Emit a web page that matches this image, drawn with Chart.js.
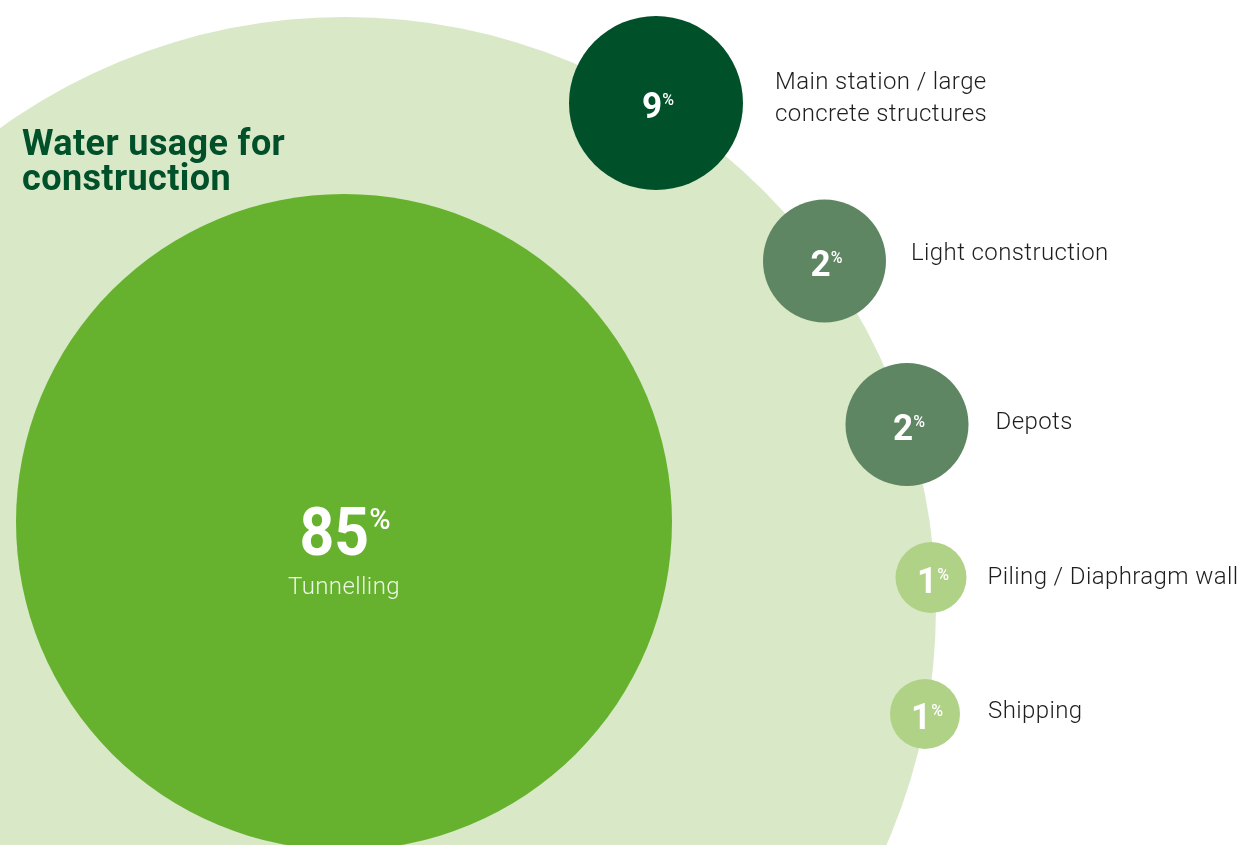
<!DOCTYPE html>
<html>
<head>
<meta charset="utf-8">
<script src="https://cdn.jsdelivr.net/npm/chart.js@4.4.1/dist/chart.umd.min.js"></script>
<style>
  html, body { margin: 0; padding: 0; background: #ffffff; }
  #wrap { width: 1242px; height: 845px; position: relative; }
</style>
</head>
<body>
<div id="wrap"><canvas id="c" width="1242" height="845"></canvas></div>
<script>
// ---- Data ----
const title = ["Water usage for", "construction"];
const categories = ["Tunnelling", "Main station / large\nconcrete structures", "Light construction", "Depots", "Piling / Diaphragm wall", "Shipping"];
const shares = [85, 9, 2, 2, 1, 1];          // percent of construction water usage
const totalShare = 100;                       // background circle = all construction

// ---- Layout (positions in scale units, radii in px) ----
const posX = [344, 656, 824.5, 907, 931, 925];
const posY = [522, 103, 261, 424.5, 577.5, 714];
const radii = [328, 87, 61.5, 61.5, 35.5, 35];
const labelGap = [0, 32, 25, 27, 21, 28];
const labelDy = [72, -14, -1, 4.5, 6.5, 4];   // baseline offset from bubble centre
const totalPos = { x: 345, y: 608, r: 591 };

// ---- Styles ----
const colors = ["#66b22f", "#00502a", "#5f8663", "#5f8663", "#b0d287", "#b0d287"];
const bgColor = "#d9e8c7";
const titleColor = "#00502a";
const FONT = "Roboto, 'Open Sans', 'DejaVu Sans', sans-serif";

const bubbleData = shares.map((v, i) => ({ x: posX[i], y: posY[i], r: radii[i], v: v }));

function setSpacing(ctx, v) { try { ctx.letterSpacing = v; } catch (e) {} }

const labelPlugin = {
  id: 'labels',
  afterDatasetsDraw(chart) {
    const ctx = chart.ctx;
    ctx.save();
    ctx.fillStyle = titleColor;
    ctx.font = "bold 36px " + FONT;
    setSpacing(ctx, "0.4px");
    ctx.textBaseline = "alphabetic";
    ctx.textAlign = "left";
    ctx.fillText(title[0], 22, 155);
    ctx.fillText(title[1], 22, 190);

    const meta = chart.getDatasetMeta(0);
    meta.data.forEach((el, i) => {
      const cx = el.x, cy = el.y;
      const r = radii[i];
      const big = i === 0;
      setSpacing(ctx, "0px");
      const numFont = big ? "bold 66px " + FONT : "bold 37px " + FONT;
      const pctFont = big ? "500 29px " + FONT : "500 16px " + FONT;
      const sx = big ? 0.92 : 0.95;
      const numStr = String(shares[i]);
      ctx.font = numFont;
      const w1 = ctx.measureText(numStr).width * sx;
      ctx.font = pctFont;
      const w2 = ctx.measureText("%").width;
      const gap = big ? 0 : 0;
      const total = w1 + gap + w2;
      const x0 = cx - total / 2 + (big ? 1 : 2);
      const numBase = big ? cy + 33 : cy + 15;
      const pctBase = big ? cy + 7 : cy + 2;
      ctx.fillStyle = "#ffffff";
      ctx.textBaseline = "alphabetic";
      ctx.textAlign = "left";
      ctx.font = numFont;
      ctx.save();
      ctx.translate(x0, numBase);
      ctx.scale(sx, 1);
      ctx.fillText(numStr, 0, 0);
      ctx.restore();
      ctx.font = pctFont;
      ctx.fillText("%", x0 + w1 + gap, pctBase);

      ctx.font = "300 24px " + FONT;
      setSpacing(ctx, "0.4px");
      if (big) {
        ctx.textAlign = "center";
        ctx.fillStyle = "#eef6e7";
        ctx.fillText(categories[i], cx, cy + labelDy[i]);
      } else {
        ctx.fillStyle = "#1e1e1e";
        ctx.textAlign = "left";
        const lines = categories[i].split("\n");
        const lh = 32;
        lines.forEach((ln, k) => ctx.fillText(ln, cx + r + labelGap[i], cy + labelDy[i] + k * lh));
      }
    });
    ctx.restore();
  }
};

const chart = new Chart(document.getElementById('c'), {
  type: 'bubble',
  data: {
    datasets: [
      {
        label: 'Water usage',
        data: bubbleData,
        backgroundColor: colors,
        borderWidth: 0,
        hoverRadius: 0,
        order: 0
      },
      {
        label: 'Construction total',
        data: [{ x: totalPos.x, y: totalPos.y, r: totalPos.r, v: totalShare }],
        backgroundColor: bgColor,
        borderWidth: 0,
        hoverRadius: 0,
        order: 1
      }
    ]
  },
  options: {
    responsive: false,
    animation: false,
    devicePixelRatio: 1,
    layout: { padding: 0, autoPadding: false },
    scales: {
      x: { type: 'linear', min: 0, max: 1242, display: false },
      y: { type: 'linear', min: 0, max: 845, reverse: true, display: false }
    },
    plugins: {
      legend: { display: false },
      tooltip: { enabled: false },
      title: { display: false }
    }
  },
  plugins: [labelPlugin]
});
</script>
</body>
</html>
